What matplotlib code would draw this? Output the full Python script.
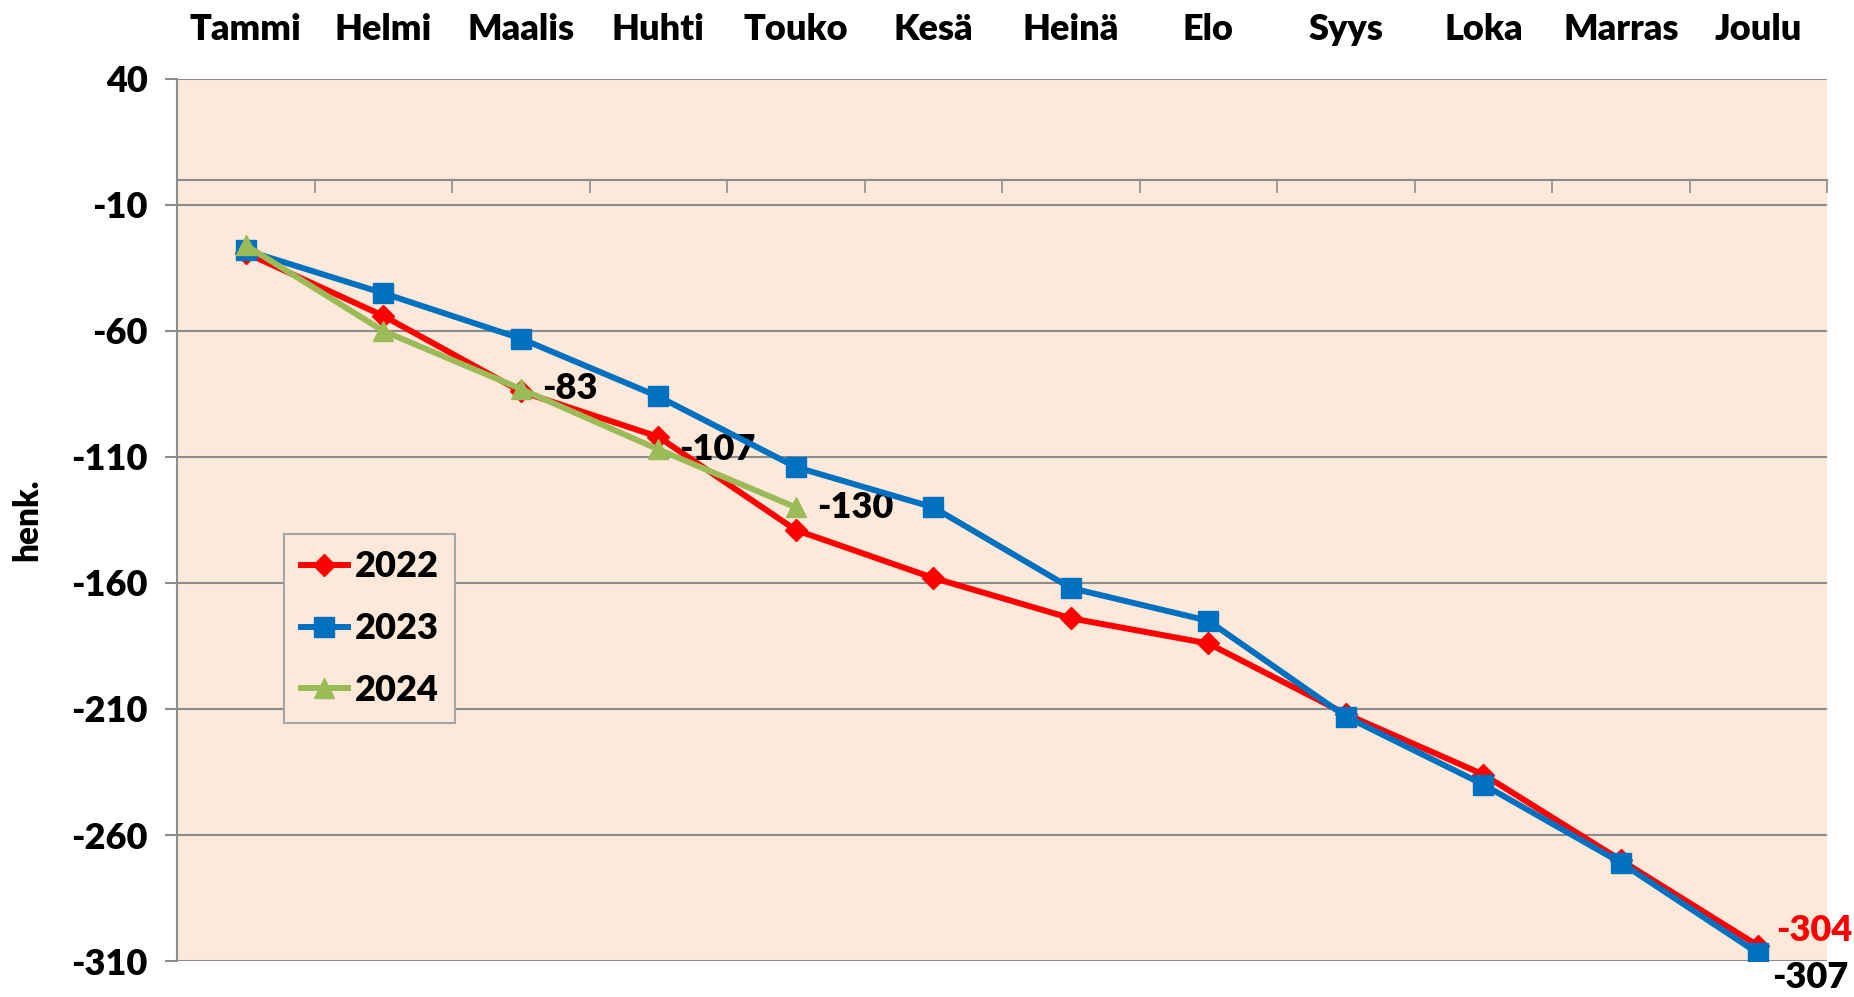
import numpy as np
import matplotlib.pyplot as plt
from matplotlib.ticker import FixedLocator

plt.rcParams['font.family'] = ['Lato', 'DejaVu Sans']
plt.rcParams['font.weight'] = 'heavy'

months = ['Tammi', 'Helmi', 'Maalis', 'Huhti', 'Touko', 'Kesä',
          'Heinä', 'Elo', 'Syys', 'Loka', 'Marras', 'Joulu']

# kumulatiivinen muutos, henk.
v2022 = [-29, -54, -84, -102, -139, -158, -174, -184, -212, -236, -270, -304]
v2023 = [-28, -45, -63, -86, -114, -130, -162, -175, -213, -240, -271, -307]
v2024 = [-26, -60, -83, -107, -130]

yticks = [40, -10, -60, -110, -160, -210, -260, -310]

bg = '#FDE9D9'
grid_c = '#8C8C8C'
fs = 26

fig = plt.figure(figsize=(18.54, 9.97), dpi=100)
ax = fig.add_axes([0.0955, 0.0361, 0.89, 0.8847])
ax.set_facecolor(bg)

x = np.arange(len(months))
ax.plot(x, v2022, color='#FF0000', lw=4.3, marker='D', ms=11, label='2022', zorder=3)
ax.plot(x[:len(v2023)], v2023, color='#0070C0', lw=4.3, marker='s', ms=15, label='2023', zorder=4)
ax.plot(x[:len(v2024)], v2024, color='#9BBB59', lw=4.3, marker='^', ms=15, label='2024', zorder=5)

ax.set_xlim(-0.5, 11.5)
ax.set_ylim(-310, 40)
ax.set_yticks(yticks)
ax.set_yticklabels([str(t) for t in yticks])
ax.yaxis.grid(True, color=grid_c, lw=1.5)
ax.set_axisbelow(True)

# x-akseli nollakohtaan, kuukaudet ylös
ax.spines['bottom'].set_position(('data', 0))
ax.spines['bottom'].set_color(grid_c)
ax.spines['bottom'].set_linewidth(1.5)
ax.spines['left'].set_color(grid_c)
ax.spines['left'].set_linewidth(1.5)
ax.spines['top'].set_visible(False)
ax.spines['right'].set_visible(False)

ax.set_xticks(x)
ax.set_xticklabels(months)
ax.xaxis.set_minor_locator(FixedLocator(np.arange(0.5, 12, 1.0)))
ax.tick_params(axis='x', which='major', length=0, top=True, bottom=False,
               labeltop=True, labelbottom=False, labelsize=fs, pad=24)
ax.tick_params(axis='x', which='minor', length=9, width=1.2, color=grid_c,
               direction='out', top=False, bottom=True)
ax.tick_params(axis='y', length=9, width=1.5, color=grid_c, labelsize=fs, pad=12)

ax.set_ylabel('henk.', fontsize=24, fontweight='heavy', labelpad=20)

# arvot
for i in range(2, len(v2024)):
    ax.annotate(str(v2024[i]), (x[i], v2024[i]), xytext=(15, 0), textcoords='offset points',
                fontsize=fs, fontweight='heavy', va='center', ha='left')
ax.annotate(str(v2022[-1]), (x[-1], v2022[-1]), xytext=(13, 11), textcoords='offset points',
            fontsize=fs, fontweight='heavy', va='center', ha='left', color='#FF0000',
            annotation_clip=False)
ax.annotate(str(v2023[-1]), (x[-1], v2023[-1]), xytext=(10, -17), textcoords='offset points',
            fontsize=fs, fontweight='heavy', va='center', ha='left', color='black',
            annotation_clip=False)

leg = ax.legend(loc='upper left', bbox_to_anchor=(0.065, 0.484), borderaxespad=0,
                fancybox=False, facecolor=bg, edgecolor='#A6A6A6', framealpha=1,
                fontsize=fs, handlelength=1.3, labelspacing=0.8, borderpad=0.45,
                handletextpad=0.2)
leg.get_frame().set_linewidth(1.5)

fig.savefig('out.png', dpi=100)
